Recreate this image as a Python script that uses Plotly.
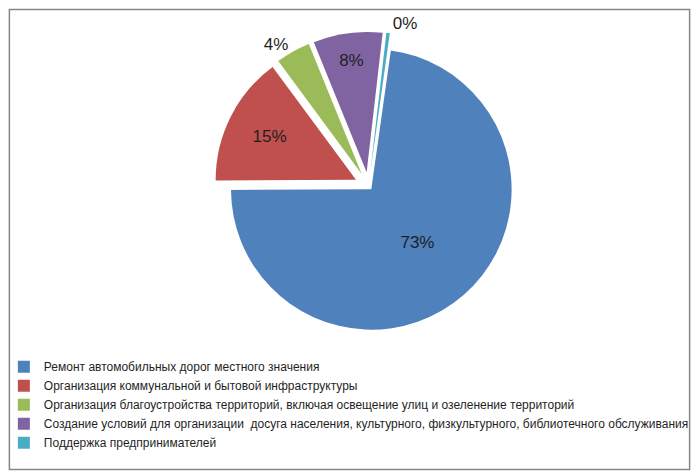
import plotly.graph_objects as go

categories = [
    "Ремонт автомобильных дорог местного значения",
    "Организация коммунальной и бытовой инфраструктуры",
    "Организация благоустройства территорий, включая освещение улиц и озеленение территорий",
    "Создание условий для организации  досуга населения, культурного, физкультурного, библиотечного обслуживания",
    "Поддержка предпринимателей",
]
values = [73, 15, 4, 8, 0.4]
colors = ["#4F81BD", "#C0504D", "#9BBB59", "#8064A2", "#4BACC6"]
text_positions = ["inside", "inside", "outside", "inside", "outside"]
pulls = [0.03, 0.1, 0.1, 0.1, 0.1]

fig = go.Figure(go.Pie(
    labels=categories,
    values=values,
    sort=False,
    direction="clockwise",
    rotation=8,
    pull=pulls,
    marker=dict(colors=colors, line=dict(color="white", width=0)),
    texttemplate="%{percent:.0%}",
    textposition=text_positions,
    insidetextorientation="horizontal",
    textfont=dict(family="Liberation Sans", size=17, color="#1F1F1F"),
    hoverinfo="label+percent",
    domain=dict(x=[0.152, 0.89], y=[0.288, 0.949]),
))

fig.update_layout(
    width=692,
    height=467,
    margin=dict(l=0, r=0, t=0, b=0, autoexpand=False),
    paper_bgcolor="white",
    showlegend=True,
    legend=dict(
        x=-0.006, y=0.263, xanchor="left", yanchor="top",
        itemwidth=30,
        font=dict(family="Liberation Sans", size=12, color="#1F1F1F"),
        orientation="v",
        bgcolor="rgba(0,0,0,0)",
    ),
    shapes=[dict(type="rect", xref="paper", yref="paper", x0=0.002, y0=0.012, x1=0.985, y1=0.997,
                 line=dict(color="#868686", width=1.5), fillcolor="rgba(0,0,0,0)", layer="below")],
)

fig.write_html("out.html")
